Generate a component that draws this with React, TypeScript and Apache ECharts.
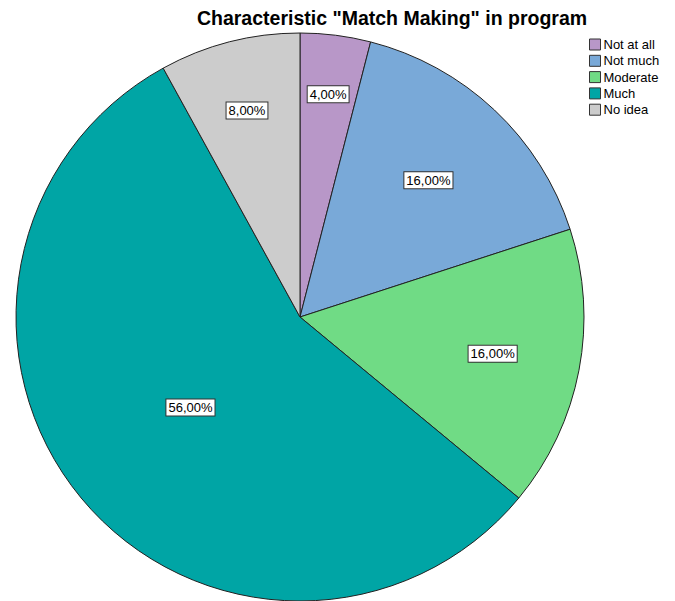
import React, { useEffect, useRef } from "react";
import * as echarts from "echarts";

const categories = ["Not at all", "Not much", "Moderate", "Much", "No idea"];
const percentValues = [4, 16, 16, 56, 8];
const sliceColors = ["#b897c8", "#79a9d8", "#70db85", "#00a5a5", "#cccccc"];
// radial placement of each percentage label, as a fraction of the radius
const labelRadialFactor = [0.78, 0.65, 0.68, 0.49, 0.74];
const chartTitle = 'Characteristic "Match Making" in program';

const PIE_RADIUS = 284;

export default function App() {
  const ref = useRef<HTMLDivElement>(null);

  useEffect(() => {
    if (!ref.current) return;
    const chart = echarts.init(ref.current, null, { renderer: "svg" });
    const total = percentValues.reduce((a, b) => a + b, 0);
    const midAngles: number[] = [];
    let acc = 0;
    percentValues.forEach((v) => {
      midAngles.push(((acc + v / 2) / total) * Math.PI * 2);
      acc += v;
    });

    chart.setOption({
      animation: false,
      backgroundColor: "#ffffff",
      title: {
        text: chartTitle,
        left: 392,
        textAlign: "center",
        top: 3,
        padding: [5, 0],
        textStyle: {
          fontFamily: "Liberation Sans, Arial, sans-serif",
          fontSize: 19.5,
          fontWeight: "bold",
          color: "#000",
        },
      },
      legend: {
        orient: "vertical",
        left: 589,
        top: 37,
        padding: 0,
        itemWidth: 11,
        itemHeight: 11,
        itemGap: 1.3,
        icon: "rect",
        data: categories,
        itemStyle: { borderColor: "#333", borderWidth: 1 },
        textStyle: {
          fontFamily: "Liberation Sans, Arial, sans-serif",
          fontSize: 13,
          lineHeight: 15,
          color: "#000",
          padding: [0, 0, 0, -2],
        },
      },
      series: [
        {
          type: "pie",
          center: [300, 317],
          radius: PIE_RADIUS,
          startAngle: 90,
          clockwise: true,
          avoidLabelOverlap: false,
          itemStyle: { borderColor: "#222", borderWidth: 1 },
          label: {
            show: true,
            position: "inside",
            formatter: (p: any) => p.value.toFixed(2).replace(".", ",") + "%",
            fontFamily: "Liberation Sans, Arial, sans-serif",
            fontSize: 13,
            color: "#000",
            backgroundColor: "#fff",
            borderColor: "#333",
            borderWidth: 1,
            padding: [2, 2, 1, 2],
          },
          labelLayout: (params: any) => {
            const i = params.dataIndex;
            const shift = (labelRadialFactor[i] - 0.5) * PIE_RADIUS;
            return {
              dx: shift * Math.sin(midAngles[i]),
              dy: -shift * Math.cos(midAngles[i]),
            };
          },
          emphasis: { disabled: true },
          data: categories.map((name, i) => ({
            name,
            value: percentValues[i],
            itemStyle: { color: sliceColors[i] },
          })),
        },
      ],
    });
    return () => chart.dispose();
  }, []);

  return (
    <div
      ref={ref}
      style={{ position: "fixed", left: 0, top: 0, width: 675, height: 601 }}
    />
  );
}
